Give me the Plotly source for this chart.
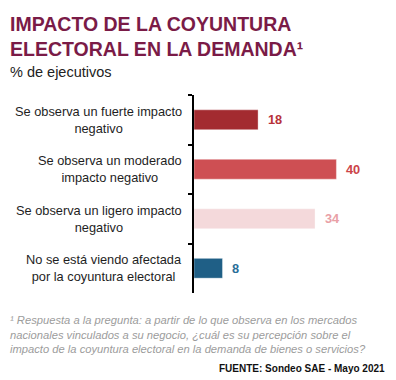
import plotly.graph_objects as go

categories = [
    "Se observa un fuerte impacto<br>negativo",
    "Se observa un moderado<br>impacto negativo",
    "Se observa un ligero impacto<br>negativo",
    "No se está viendo afectada<br>por la coyuntura electoral",
]
values = [18, 40, 34, 8]
bar_colors = ["#A32B30", "#CE4F53", "#F4D9DB", "#1F5F86"]
label_colors = ["#B8323A", "#CC4449", "#E9A0A6", "#2A6E98"]

title_text = "IMPACTO DE LA COYUNTURA<br>ELECTORAL EN LA DEMANDA¹"
subtitle_text = "% de ejecutivos"
footnote_text = ("¹ Respuesta a la pregunta: a partir de lo que observa en los mercados<br>"
                 "nacionales vinculados a su negocio, ¿cuál es su percepción sobre el<br>"
                 "impacto de la coyuntura electoral en la demanda de bienes o servicios?")
source_text = "FUENTE: Sondeo SAE - Mayo 2021"

FONT = "Liberation Sans, Arial, sans-serif"
W, H = 396, 380
L, R, T, B = 194, 10, 95, 87
pw, ph = W - L - R, H - T - B


def px(x):
    return (x - L) / pw


def py(y):
    return (H - B - y) / ph


fig = go.Figure()
fig.add_trace(go.Bar(
    y=categories, x=values, orientation="h",
    marker=dict(color=bar_colors, line=dict(width=1, color="rgba(255,255,255,0.35)")),
    width=0.4, hoverinfo="skip",
))

annotations = []
for c, v, col in zip(categories, values, label_colors):
    annotations.append(dict(
        x=v, y=c, xref="x", yref="y", text=f"<b>{v}</b>", showarrow=False,
        xanchor="left", yanchor="middle", xshift=8,
        font=dict(family=FONT, size=12.8, color=col),
    ))
    annotations.append(dict(
        x=0, y=c, xref="x", yref="y", text=c, showarrow=False,
        xanchor="right", yanchor="middle", xshift=-10, align="center",
        font=dict(family=FONT, size=12.8, color="#1E1E1E"),
    ))

annotations += [
    dict(x=px(8), y=py(11), xref="paper", yref="paper", text=f"<b>{title_text}</b>",
         showarrow=False, xanchor="left", yanchor="top", align="left",
         font=dict(family=FONT, size=19.5, color="#7A1B47")),
    dict(x=px(8), y=py(62), xref="paper", yref="paper", text=subtitle_text,
         showarrow=False, xanchor="left", yanchor="top", align="left",
         font=dict(family=FONT, size=14.5, color="#222222")),
    dict(x=px(8), y=py(312), xref="paper", yref="paper", text=f"<i>{footnote_text}</i>",
         showarrow=False, xanchor="left", yanchor="top", align="left",
         font=dict(family=FONT, size=11.2, color="#9C9C9C")),
    dict(x=px(387), y=py(368), xref="paper", yref="paper", text=f"<b>{source_text}</b>",
         showarrow=False, xanchor="right", yanchor="middle", align="right",
         font=dict(family=FONT, size=10, color="#111111")),
]

fig.update_layout(
    width=W, height=H,
    margin=dict(l=L, r=R, t=T, b=B, autoexpand=False),
    paper_bgcolor="white", plot_bgcolor="white",
    showlegend=False,
    annotations=annotations,
    xaxis=dict(range=[0, pw / 3.56], visible=False, fixedrange=True, automargin=False),
    yaxis=dict(
        categoryorder="array", categoryarray=categories, autorange="reversed",
        showticklabels=False, showline=True, linecolor="black", linewidth=2,
        ticks="outside", tickson="boundaries", ticklen=4, tickwidth=2, tickcolor="black",
        showgrid=False, zeroline=False, fixedrange=True, automargin=False,
    ),
)

fig.write_html(
    "out.html",
    config={"displayModeBar": False},
    post_script="document.body.style.margin='0';document.body.style.overflow='hidden';",
)
